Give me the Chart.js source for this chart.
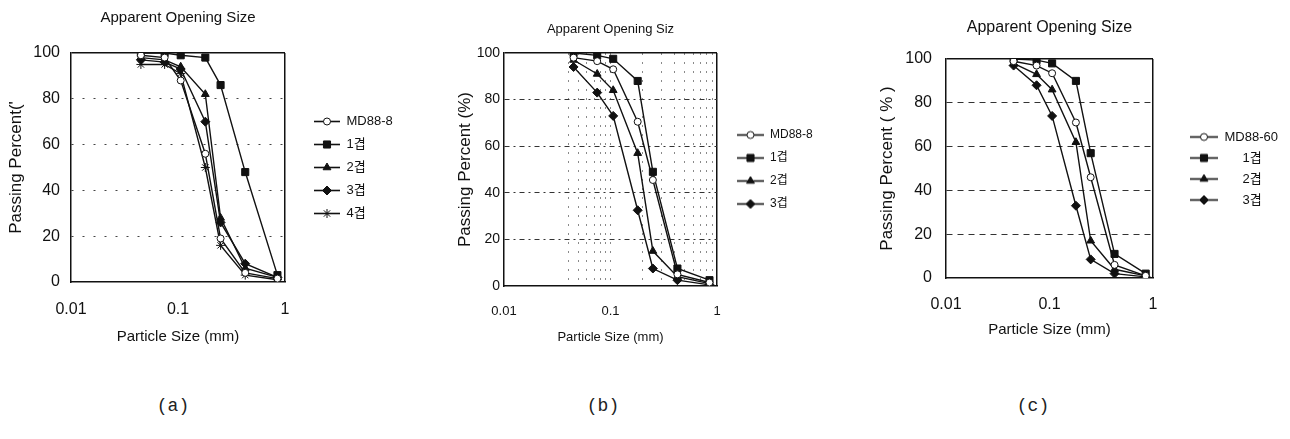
<!DOCTYPE html>
<html>
<head>
<meta charset="utf-8">
<title>Apparent Opening Size</title>
<script src="https://cdn.jsdelivr.net/npm/chart.js@4.4.1/dist/chart.umd.min.js"></script>
<style>
  html, body { margin: 0; padding: 0; background: #fff; }
  body { width: 1290px; height: 439px; position: relative; overflow: hidden; }
  .panel { position: absolute; top: 0; width: 430px; height: 360px; }
  .caption { position: absolute; top: 394px; width: 60px; line-height: 24px; text-align: center;
             font-size: 18px; font-family: 'Liberation Mono', 'DejaVu Sans Mono', monospace; color: #222; }
</style>
</head>
<body>
<div class="panel" style="left:0px"><canvas id="chart-a"></canvas></div>
<div class="panel" style="left:430px"><canvas id="chart-b"></canvas></div>
<div class="panel" style="left:860px"><canvas id="chart-c"></canvas></div>
<div class="caption" style="left:143px">(a)</div>
<div class="caption" style="left:573px">(b)</div>
<div class="caption" style="left:1003px">(c)</div>

<script>
// sieve sizes (mm) shared by every curve
const sieveSizes = [0.045, 0.075, 0.106, 0.18, 0.25, 0.425, 0.85];
const xTickValues = [0.01, 0.1, 1];
const xTickLabels = ['0.01', '0.1', '1'];
const yTicks = [0, 20, 40, 60, 80, 100];

// (a)
const namesA = ['MD88-8', '1겹', '2겹', '3겹', '4겹'];
const md88A = [99, 98, 88, 56, 19, 4, 1.5];
const ply1A = [100, 100, 99, 98, 86, 48, 3];
const ply2A = [98, 97, 94, 82, 28, 6, 2];
const ply3A = [97, 96, 93, 70, 26, 8, 2];
const ply4A = [95, 95, 91, 50, 16, 3, 1];

// (b)
const namesB = ['MD88-8', '1겹', '2겹', '3겹'];
const md88B = [98, 96.5, 93, 70.5, 45.5, 5, 1.5];
const ply1B = [100, 99, 97.5, 88, 49, 7.5, 2.5];
const ply2B = [97, 91, 84, 57, 15, 4, 1];
const ply3B = [94, 83, 73, 32.5, 7.5, 2.5, 0.5];

// (c)
const namesC = ['MD88-60', '     1겹', '     2겹', '     3겹'];
const md88C = [99, 97, 93.5, 71, 46, 6, 1];
const ply1C = [100, 99.5, 98, 90, 57, 11, 2];
const ply2C = [98, 93, 86, 62, 17, 4, 1];
const ply3C = [97, 88, 74, 33, 8.5, 2, 0.5];

const INK = '#111';
const REG = "'Liberation Sans', Arial, 'Noto Sans CJK KR', sans-serif";

const markers = [
  { style: 'circle', fill: '#fff', r: 3.5 },
  { style: 'rect', fill: INK, r: 5 },
  { style: 'triangle', fill: INK, r: 4.5 },
  { style: 'rectRot', fill: INK, r: 4.5 },
  { style: 'star', fill: INK, r: 4.5 }
];

const panels = [
  { id: 'chart-a', names: namesA, series: [md88A, ply1A, ply2A, ply3A, ply4A],
    title: 'Apparent Opening Size', yTitle: "Passing Percent('",
    area: { left: 71, right: 285, top: 53, bottom: 282 },
    titleY: 17.5, titleSize: 15, yTitleX: 16, yTitleSize: 17, yTickRight: 60, yTickSize: 16,
    xTickY: 310, xTickSize: 16, xTitleY: 337, xTitleSize: 15,
    legendGap: 19, legendLine: 26, legendSize: 13, legendPad: 10,
    gridColor: '#444', gridDash: [2, 9], minorGrid: false },
  { id: 'chart-b', names: namesB, series: [md88B, ply1B, ply2B, ply3B],
    title: 'Apparent Opening Siz', yTitle: 'Passing Percent (%)',
    area: { left: 74, right: 287, top: 53, bottom: 286 },
    titleY: 29, titleSize: 13, yTitleX: 35, yTitleSize: 17, yTickRight: 70, yTickSize: 14,
    xTickY: 311, xTickSize: 13, xTitleY: 337, xTitleSize: 13,
    legendGap: 9, legendLine: 27, legendSize: 12, legendPad: 11,
    gridColor: '#333', gridDash: [5, 4, 2, 4], minorGrid: true },
  { id: 'chart-c', names: namesC, series: [md88C, ply1C, ply2C, ply3C],
    title: 'Apparent Opening Size', yTitle: 'Passing Percent ( % )',
    area: { left: 86, right: 293, top: 59, bottom: 278 },
    titleY: 28, titleSize: 16, yTitleX: 27.5, yTitleSize: 17, yTickRight: 72, yTickSize: 16,
    xTickY: 305, xTickSize: 16, xTitleY: 330, xTitleSize: 15,
    legendGap: 29, legendLine: 28, legendSize: 13, legendPad: 8,
    gridColor: '#333', gridDash: [6, 5], minorGrid: false }
];

// keep the right-hand legend box at a fixed width so the plot area lands where we want it
const legendWidthPlugin = {
  id: 'legendWidth',
  afterInit(chart, args, opts) {
    const legend = chart.legend;
    if (!legend || !opts.width) return;
    const fit = legend.fit.bind(legend);
    legend.fit = function () {
      fit();
      this.width = opts.width;
    };
  }
};

// line + marker drawn into a small canvas, used as the legend symbol
function legendIcon(marker, gap, len) {
  const c = document.createElement('canvas');
  c.width = gap + len;
  c.height = 15;
  const g = c.getContext('2d');
  g.strokeStyle = INK;
  g.lineWidth = 1.6;
  g.beginPath();
  g.moveTo(gap, 7.5);
  g.lineTo(gap + len, 7.5);
  g.stroke();
  g.fillStyle = marker.fill;
  g.lineWidth = 1;
  Chart.helpers.drawPoint(g, { pointStyle: marker.style, radius: marker.r, rotation: 0, borderWidth: 1 }, gap + len / 2, 7.5);
  return c;
}

function xLabel(v) {
  const k = xTickValues.findIndex(t => Math.abs(Math.log10(t) - Math.log10(v)) < 1e-6);
  return k >= 0 ? xTickLabels[k] : '';
}

function isMinor(v) {
  return (v >= 0.039 && v <= 0.101) || (v >= 0.19 && v <= 0.91);
}

function buildChart(p) {
  const H = 360, W = 430, xBottom = 352;
  const a = p.area;
  const lh = s => s * 1.2;
  const icons = p.names.map((n, i) => legendIcon(markers[i], p.legendGap, p.legendLine));

  const datasets = p.series.map((vals, i) => ({
    label: p.names[i],
    data: sieveSizes.map((x, k) => ({ x: x, y: vals[k] })),
    borderColor: INK,
    borderWidth: 1.4,
    tension: 0,
    fill: false,
    pointStyle: markers[i].style,
    pointRadius: markers[i].r,
    pointHoverRadius: markers[i].r,
    pointBackgroundColor: markers[i].fill,
    pointBorderColor: INK,
    pointBorderWidth: 1
  }));

  new Chart(document.getElementById(p.id), {
    type: 'line',
    data: { datasets },
    plugins: [legendWidthPlugin],
    options: {
      responsive: true,
      maintainAspectRatio: false,
      animation: false,
      layout: { padding: { left: 0, top: 0, right: 0, bottom: H - xBottom } },
      plugins: {
        tooltip: { enabled: false },
        legendWidth: { width: W - a.right },
        title: {
          display: true,
          text: p.title,
          fullSize: false,
          color: INK,
          font: { family: REG, size: p.titleSize, weight: 'normal' },
          padding: { top: p.titleY - lh(p.titleSize) / 2, bottom: a.top - p.titleY - lh(p.titleSize) / 2 }
        },
        legend: {
          position: 'right',
          fullSize: false,
          labels: {
            usePointStyle: true,
            pointStyleWidth: p.legendGap + p.legendLine,
            padding: p.legendPad,
            color: INK,
            font: { family: REG, size: p.legendSize },
            generateLabels(chart) {
              const items = Chart.defaults.plugins.legend.labels.generateLabels(chart);
              items.forEach((it, i) => { it.pointStyle = icons[i]; });
              return items;
            }
          }
        }
      },
      scales: {
        x: {
          type: 'logarithmic',
          min: xTickValues[0],
          max: xTickValues[xTickValues.length - 1],
          afterFit: s => { s.height = xBottom - a.bottom; },
          ticks: {
            autoSkip: false,
            maxRotation: 0,
            color: INK,
            font: { family: REG, size: p.xTickSize },
            padding: p.xTickY - a.bottom - lh(p.xTickSize) / 2,
            callback: v => xLabel(v)
          },
          title: {
            display: true,
            text: 'Particle Size (mm)',
            color: INK,
            font: { family: REG, size: p.xTitleSize },
            padding: { top: 0, bottom: xBottom - p.xTitleY - lh(p.xTitleSize) / 2 }
          },
          grid: {
            drawTicks: false,
            color: c => {
              const v = c.tick ? c.tick.value : 0;
              if (Math.abs(v - 1) < 1e-6) return INK;
              if (p.minorGrid && isMinor(v)) return '#8a8a8a';
              return 'rgba(0,0,0,0)';
            },
            lineWidth: c => (c.tick && Math.abs(c.tick.value - 1) < 1e-6 ? 1.5 : 1)
          },
          border: {
            display: true,
            color: INK,
            width: 1.5,
            dash: c => (c.tick && Math.abs(c.tick.value - 1) < 1e-6 ? [] : [2, 7])
          }
        },
        y: {
          min: yTicks[0],
          max: yTicks[yTicks.length - 1],
          afterFit: s => { s.width = a.left; },
          ticks: {
            stepSize: yTicks[1] - yTicks[0],
            color: INK,
            font: { family: REG, size: p.yTickSize },
            padding: a.left - p.yTickRight
          },
          title: {
            display: true,
            text: p.yTitle,
            color: INK,
            font: { family: REG, size: p.yTitleSize },
            padding: { top: p.yTitleX - lh(p.yTitleSize) / 2, bottom: 0 }
          },
          grid: {
            drawTicks: false,
            color: c => {
              const v = c.tick ? c.tick.value : 0;
              if (v === 100) return INK;
              if (v === 0) return 'rgba(0,0,0,0)';
              return p.gridColor;
            },
            lineWidth: c => (c.tick && c.tick.value === 100 ? 1.5 : 1)
          },
          border: {
            display: true,
            color: INK,
            width: 1.5,
            dash: c => (c.tick && c.tick.value === 100 ? [] : p.gridDash)
          }
        }
      }
    }
  });
}

panels.forEach(buildChart);
</script>
</body>
</html>
